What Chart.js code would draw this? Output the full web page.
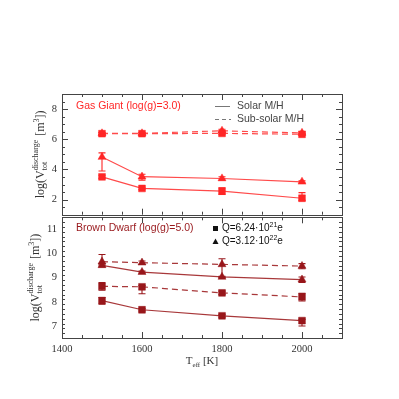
<!DOCTYPE html>
<html>
<head>
<meta charset="utf-8">
<script src="https://cdn.jsdelivr.net/npm/chart.js@4.4.0/dist/chart.umd.min.js"></script>
<style>
body { margin: 0; background: #fff; }
#wrap { position: relative; width: 399px; height: 399px; }
canvas { position: absolute; left: 0; }
</style>
</head>
<body>
<div id="wrap">
  <canvas id="topChart" width="399" height="220" style="top:0px"></canvas>
  <canvas id="botChart" width="399" height="187" style="top:212px"></canvas>
</div>
<script>
// effective temperatures (K)
var temps = [1500, 1600, 1800, 2000];
var xTicks = [1400, 1600, 1800, 2000];
var ggTicks = [2, 4, 6, 8];
var bdTicks = [7, 8, 9, 10, 11];

// Gas giant, log(g)=3.0
var ggSolarSq = [3.51, 2.74, 2.56, 2.09];
var ggSolarSqLo = [3.41, 2.66, 2.35, 1.95];
var ggSolarSqHi = [3.61, 2.82, 2.79, 2.46];
var ggSolarTri = [4.82, 3.52, 3.4, 3.18];
var ggSolarTriLo = [3.9, 3.29, 3.28, 3.12];
var ggSolarTriHi = [5.1, 3.68, 3.52, 3.24];
var ggSubSq = [6.37, 6.37, 6.39, 6.33];
var ggSubSqLo = [6.31, 6.31, 6.31, 6.27];
var ggSubSqHi = [6.43, 6.43, 6.47, 6.39];
var ggSubTri = [6.39, 6.39, 6.56, 6.42];
var ggSubTriLo = [6.33, 6.33, 6.46, 6.35];
var ggSubTriHi = [6.45, 6.45, 6.66, 6.49];

// Brown dwarf, log(g)=5.0
var bdSolarSq = [8.05, 7.67, 7.42, 7.22];
var bdSolarSqLo = [7.9, 7.62, 7.36, 7.0];
var bdSolarSqHi = [8.18, 7.72, 7.48, 7.27];
var bdSolarTri = [9.51, 9.23, 9.03, 8.92];
var bdSolarTriLo = [9.45, 9.19, 9.0, 8.8];
var bdSolarTriHi = [9.57, 9.27, 9.06, 9.03];
var bdSubSq = [8.64, 8.62, 8.37, 8.2];
var bdSubSqLo = [8.48, 8.33, 8.3, 8.03];
var bdSubSqHi = [8.8, 8.67, 8.44, 8.35];
var bdSubTri = [9.66, 9.62, 9.55, 9.48];
var bdSubTriLo = [9.52, 9.55, 9.02, 9.37];
var bdSubTriHi = [9.96, 9.69, 9.78, 9.58];

var red = '#ff2626';
var redLine = '#ff4a4a';
var dark = '#98171b';
var darkLine = '#a8383a';

function pts(vals) {
  return temps.map(function (t, i) { return { x: t, y: vals[i] }; });
}

function ds(vals, lo, hi, style, dashed, col, lineCol) {
  return {
    data: pts(vals),
    errLo: lo,
    errHi: hi,
    pointStyle: style,
    pointRadius: style == 'rect' ? 4.8 : 4.6,
    backgroundColor: col,
    pointBorderColor: col,
    pointBorderWidth: 0.5,
    borderColor: lineCol,
    borderWidth: 1.2,
    borderDash: dashed ? [6, 4] : [],
    showLine: true,
    tension: 0
  };
}

// error bars from errLo / errHi of each dataset
var errorBars = {
  id: 'errorBars',
  afterDatasetsDraw: function (chart) {
    var ctx = chart.ctx;
    var ys = chart.scales.y;
    chart.data.datasets.forEach(function (d, di) {
      var meta = chart.getDatasetMeta(di);
      ctx.save();
      ctx.strokeStyle = d.pointBorderColor;
      ctx.lineWidth = 1.1;
      meta.data.forEach(function (el, i) {
        var x = el.x;
        var y1 = ys.getPixelForValue(d.errLo[i]);
        var y2 = ys.getPixelForValue(d.errHi[i]);
        ctx.beginPath();
        ctx.moveTo(x, y1); ctx.lineTo(x, y2);
        ctx.moveTo(x - 3.5, y1); ctx.lineTo(x + 3.5, y1);
        ctx.moveTo(x - 3.5, y2); ctx.lineTo(x + 3.5, y2);
        ctx.stroke();
      });
      ctx.restore();
    });
  }
};

// box with inward ticks on all four sides
var frame = {
  id: 'frame',
  afterDraw: function (chart, args, opts) {
    var ctx = chart.ctx;
    var a = chart.chartArea;
    var xs = chart.scales.x, ys = chart.scales.y;
    ctx.save();
    ctx.strokeStyle = '#444';
    ctx.lineWidth = 1;
    ctx.strokeRect(Math.round(a.left) + 0.5, Math.round(a.top) + 0.5,
      Math.round(a.right - a.left), Math.round(a.bottom - a.top));
    ctx.beginPath();
    var n = Math.round((xs.max - xs.min) / 50);
    for (var i = 0; i <= n; i++) {
      var v = xs.min + i * 50;
      var px = Math.round(xs.getPixelForValue(v)) + 0.5;
      var len = v % 200 == 0 ? 6 : 3;
      ctx.moveTo(px, a.bottom); ctx.lineTo(px, a.bottom - len);
      ctx.moveTo(px, a.top); ctx.lineTo(px, a.top + len);
    }
    var step = opts.yMinor, major = opts.yMajor;
    var m = Math.round((ys.max - ys.min) / step);
    for (var j = 0; j <= m; j++) {
      var w = ys.min + j * step;
      var py = Math.round(ys.getPixelForValue(w)) + 0.5;
      var isMaj = Math.abs(w / major - Math.round(w / major)) < 1e-6;
      var l2 = isMaj ? 6 : 3;
      ctx.moveTo(a.left, py); ctx.lineTo(a.left + l2, py);
      ctx.moveTo(a.right, py); ctx.lineTo(a.right - l2, py);
    }
    ctx.stroke();

    // y axis title: log(V_tot^discharge [m^3])
    var big = '12px "Liberation Serif"', small = '8px "Liberation Serif"';
    ctx.fillStyle = '#333';
    ctx.textBaseline = 'alphabetic';
    ctx.font = big;
    var w1 = ctx.measureText('log(V').width;
    var w3 = ctx.measureText(' [m').width;
    var w5 = ctx.measureText('])').width;
    ctx.font = small;
    var w2 = Math.max(ctx.measureText('discharge').width, ctx.measureText('tot').width) + 1;
    var w4 = ctx.measureText('3').width;
    var tot = w1 + w2 + w3 + w4 + w5;
    ctx.translate(opts.titleX, (a.top + a.bottom) / 2);
    ctx.rotate(-Math.PI / 2);
    var x0 = -tot / 2;
    ctx.font = big; ctx.fillText('log(V', x0, 0); x0 += w1;
    ctx.font = small; ctx.fillText('discharge', x0, -6.5); ctx.fillText('tot', x0, 3); x0 += w2;
    ctx.font = big; ctx.fillText(' [m', x0, 0); x0 += w3;
    ctx.font = small; ctx.fillText('3', x0, -5); x0 += w4;
    ctx.font = big; ctx.fillText('])', x0, 0);
    ctx.restore();
  }
};

var topNotes = {
  id: 'notes',
  afterDraw: function (chart) {
    var ctx = chart.ctx;
    ctx.save();
    ctx.textBaseline = 'middle';
    ctx.font = '10.5px "Liberation Sans"';
    ctx.fillStyle = red;
    ctx.fillText('Gas Giant (log(g)=3.0)', 76, 106);
    ctx.strokeStyle = '#777';
    ctx.lineWidth = 1;
    ctx.beginPath(); ctx.moveTo(215, 106.5); ctx.lineTo(230, 106.5); ctx.stroke();
    ctx.setLineDash([4, 3]);
    ctx.beginPath(); ctx.moveTo(215, 119.5); ctx.lineTo(231, 119.5); ctx.stroke();
    ctx.fillStyle = '#444';
    ctx.fillText('Solar M/H', 237, 106);
    ctx.fillText('Sub-solar M/H', 237, 119);
    ctx.restore();
  }
};

var botNotes = {
  id: 'notes',
  afterDraw: function (chart) {
    var ctx = chart.ctx;
    ctx.save();
    ctx.textBaseline = 'middle';
    ctx.font = '10.5px "Liberation Sans"';
    ctx.fillStyle = dark;
    ctx.fillText('Brown Dwarf (log(g)=5.0)', 76, 16.5);
    ctx.fillStyle = '#111';
    ctx.fillRect(213, 14, 5, 5);
    ctx.beginPath(); ctx.moveTo(212.5, 32); ctx.lineTo(218.5, 32); ctx.lineTo(215.5, 26.5); ctx.closePath(); ctx.fill();
    var rows = [['Q=6.24\u00b710', '21', 'e', 16.5], ['Q=3.12\u00b710', '22', 'e', 29.5]];
    rows.forEach(function (r) {
      var x = 222;
      ctx.font = '10px "Liberation Sans"';
      ctx.fillText(r[0], x, r[3]); x += ctx.measureText(r[0]).width;
      ctx.font = '7px "Liberation Sans"';
      ctx.fillText(r[1], x, r[3] - 3.5); x += ctx.measureText(r[1]).width;
      ctx.font = '10px "Liberation Sans"';
      ctx.fillText(r[2], x, r[3]);
    });
    // x axis title: T_eff [K]
    var a = chart.chartArea;
    ctx.fillStyle = '#333';
    ctx.textBaseline = 'alphabetic';
    ctx.font = '11px "Liberation Serif"';
    var wt = ctx.measureText('T').width, wk = ctx.measureText(' [K]').width;
    ctx.font = '7px "Liberation Serif"';
    var we = ctx.measureText('eff').width;
    var x0 = (a.left + a.right) / 2 - (wt + we + wk) / 2;
    var yb = a.bottom + 26;
    ctx.font = '11px "Liberation Serif"'; ctx.fillText('T', x0, yb);
    ctx.font = '7px "Liberation Serif"'; ctx.fillText('eff', x0 + wt, yb + 2.5);
    ctx.font = '11px "Liberation Serif"'; ctx.fillText(' [K]', x0 + wt + we, yb);
    ctx.restore();
  }
};

function makeChart(id, sets, yMin, yMax, yTickVals, yMinor, yMajor, titleX, showX, pad, notes) {
  return new Chart(document.getElementById(id), {
    type: 'scatter',
    data: { datasets: sets },
    options: {
      responsive: false,
      animation: false,
      layout: { padding: pad },
      plugins: {
        legend: { display: false },
        tooltip: { enabled: false },
        frame: { yMinor: yMinor, yMajor: yMajor, titleX: titleX }
      },
      scales: {
        x: {
          type: 'linear', min: 1400, max: 2100,
          display: showX,
          grid: { display: false, drawTicks: false },
          border: { display: false },
          afterBuildTicks: function (s) { s.ticks = xTicks.map(function (v) { return { value: v }; }); },
          afterFit: function (s) {
            if (showX) s.height = 61;
            s.paddingLeft = 0; s.paddingRight = 0;
          },
          ticks: {
            padding: 5, color: '#333', maxRotation: 0,
            font: { family: 'Liberation Serif', size: 10.5 },
            callback: function (v) { return String(v); }
          }
        },
        y: {
          type: 'linear', min: yMin, max: yMax,
          grid: { display: false, drawTicks: false },
          border: { display: false },
          afterBuildTicks: function (s) { s.ticks = yTickVals.map(function (v) { return { value: v }; }); },
          afterFit: function (s) {
            s.width = 62;
            s.paddingTop = 0; s.paddingBottom = 0;
          },
          ticks: { padding: 5, color: '#333', font: { family: 'Liberation Serif', size: 10.5 } }
        }
      }
    },
    plugins: [errorBars, frame, notes]
  });
}

makeChart('topChart', [
  ds(ggSolarSq, ggSolarSqLo, ggSolarSqHi, 'rect', false, red, redLine),
  ds(ggSolarTri, ggSolarTriLo, ggSolarTriHi, 'triangle', false, red, redLine),
  ds(ggSubSq, ggSubSqLo, ggSubSqHi, 'rect', true, red, redLine),
  ds(ggSubTri, ggSubTriLo, ggSubTriHi, 'triangle', true, red, redLine)
], 1, 9, ggTicks, 0.5, 2, 44, false, { top: 94, bottom: 4, right: 57, left: 0 }, topNotes);

makeChart('botChart', [
  ds(bdSolarSq, bdSolarSqLo, bdSolarSqHi, 'rect', false, dark, darkLine),
  ds(bdSolarTri, bdSolarTriLo, bdSolarTriHi, 'triangle', false, dark, darkLine),
  ds(bdSubSq, bdSubSqLo, bdSubSqHi, 'rect', true, dark, darkLine),
  ds(bdSubTri, bdSubTriLo, bdSubTriHi, 'triangle', true, dark, darkLine)
], 6.5, 11.5, bdTicks, 0.2, 1, 39, true, { top: 4, bottom: 0, right: 57, left: 0 }, botNotes);
</script>
</body>
</html>
